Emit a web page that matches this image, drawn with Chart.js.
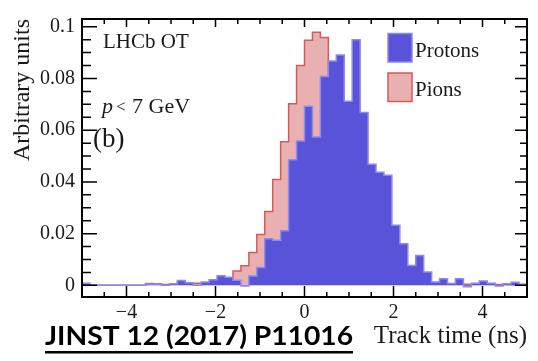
<!DOCTYPE html>
<html>
<head>
<meta charset="utf-8">
<script src="https://cdn.jsdelivr.net/npm/chart.js@4.4.0/dist/chart.umd.min.js"></script>
<style>
  html, body { margin: 0; padding: 0; background: #fff; }
</style>
</head>
<body>
<canvas id="myChart" width="538" height="361"></canvas>
<script>
// histogram binning (track time, ns)
const tMin = -5;
const tMax = 5;
const nBins = 56;

// normalised bin contents, 56 bins from -5 to 5 ns
const protons = [
  0.0008, 0.0000, 0.0000, 0.0000, 0.0000, 0.0000, 0.0000, 0.0000,
  0.0005, 0.0004, 0.0000, 0.0006, 0.0019, 0.0010, 0.0000, 0.0013,
  0.0022, 0.0037, 0.0031, 0.0020, -0.0002, 0.0036, 0.0069, 0.0180,
  0.0174, 0.0211, 0.0486, 0.0558, 0.0693, 0.0574, 0.0808, 0.0868,
  0.0891, 0.0712, 0.0950, 0.0668, 0.0468, 0.0437, 0.0426, 0.0232,
  0.0161, 0.0077, 0.0115, 0.0052, 0.0013, 0.0026, 0.0007, 0.0026,
  -0.0005, 0.0008, 0.0017, 0.0008, -0.0002, 0.0006, 0.0012, 0.0004,
];
const pions = [
  0.0003, 0.0000, 0.0000, 0.0000, 0.0000, 0.0000, 0.0000, 0.0000,
  0.0007, 0.0006, 0.0003, 0.0004, 0.0012, 0.0008, 0.0008, 0.0009,
  0.0015, 0.0026, 0.0029, 0.0056, 0.0076, 0.0127, 0.0197, 0.0286,
  0.0409, 0.0555, 0.0702, 0.0850, 0.0948, 0.0979, 0.0958, 0.0760,
  0.0610, 0.0460, 0.0330, 0.0230, 0.0155, 0.0105, 0.0070, 0.0048,
  0.0036, 0.0027, 0.0020, 0.0014, 0.0010, 0.0009, 0.0005, 0.0007,
  0.0004, 0.0005, 0.0007, 0.0004, 0.0003, 0.0003, 0.0002, 0.0003,
];

const xLabels = [-4, -2, 0, 2, 4];
const yLabels = [0, 0.02, 0.04, 0.06, 0.08, 0.1];

const serif = '"Liberation Serif", "Times New Roman", serif';
const ink = "#1a1a1a";

const binWidth = (tMax - tMin) / nBins;

// left bin edges + closing point so stepped lines look like a histogram
const toSteps = (vals) => {
  const pts = vals.map((v, i) => ({ x: tMin + i * binWidth, y: v }));
  pts.push({ x: tMax, y: vals[vals.length - 1] });
  return pts;
};

const isLabel = (list, v) => list.some((l) => Math.abs(l - v) < 1e-9);

// ROOT style frame: ticks pointing inwards on all four sides
const framePlugin = {
  id: "frame",
  afterDatasetsDraw(chart) {
    const { ctx, chartArea: a, scales } = chart;
    const x = scales.x;
    const y = scales.y;
    ctx.save();
    ctx.strokeStyle = "#000";
    ctx.lineWidth = 1.5;
    ctx.beginPath();
    for (let k = -9; k <= 9; k++) {
      const t = k / 2;
      const px = x.getPixelForValue(t);
      const major = isLabel(xLabels, t);
      ctx.moveTo(px, a.bottom);
      ctx.lineTo(px, a.bottom - (major ? 11 : 5));
      ctx.moveTo(px, a.top);
      ctx.lineTo(px, a.top + (major ? 8 : 5));
    }
    for (let k = 0; k <= 20; k++) {
      const v = k * 0.005;
      const py = y.getPixelForValue(v);
      const major = k % 4 === 0;
      ctx.moveTo(a.left, py);
      ctx.lineTo(a.left + (major ? 15 : 9), py);
      ctx.moveTo(a.right, py);
      ctx.lineTo(a.right - (major ? 12 : 7), py);
    }
    ctx.stroke();
    ctx.lineWidth = 2;
    ctx.strokeRect(a.left, a.top, a.right - a.left, a.bottom - a.top);

    // legend
    ctx.font = "21px " + serif;
    ctx.textBaseline = "alphabetic";
    ctx.textAlign = "left";
    chart.data.datasets.forEach((ds, i) => {
      const top = 33.5 + i * 39.5;
      ctx.fillStyle = ds.backgroundColor;
      ctx.fillRect(388, top, 24, 28.5);
      ctx.strokeStyle = ds.borderColor;
      ctx.lineWidth = 1.5;
      ctx.strokeRect(388, top, 24, 28.5);
      ctx.fillStyle = ink;
      ctx.fillText(ds.label, 415, top + 23);
    });

    // labels inside the frame
    ctx.fillStyle = ink;
    ctx.font = "21px " + serif;
    ctx.fillText("LHCb OT", 103, 48);
    ctx.font = "italic 22px " + serif;
    ctx.fillText("p", 102, 113);
    ctx.font = "17px " + serif;
    ctx.fillText("<", 116, 112);
    ctx.font = "22px " + serif;
    ctx.fillText("7 GeV", 132, 113);
    ctx.font = "27px " + serif;
    ctx.fillText("(b)", 93, 147);

    // reference line under the plot
    ctx.font = "bold 26px Lato, \"Liberation Sans\", sans-serif";
    const ref = "JINST 12 (2017) P11016";
    const w = ctx.measureText(ref).width;
    ctx.save();
    ctx.translate(45, 345);
    ctx.scale(308 / w, 1);
    ctx.fillStyle = "#000";
    ctx.fillText(ref, 0, 0);
    ctx.restore();
    ctx.fillStyle = "#000";
    ctx.fillRect(45, 351, 308, 2.5);
    ctx.restore();
  },
};

const ctx = document.getElementById("myChart");

new Chart(ctx, {
  type: "line",
  data: {
    datasets: [
      {
        label: "Protons",
        data: toSteps(protons),
        stepped: "before",
        fill: "origin",
        backgroundColor: "#5853d8",
        borderColor: "#8c89f0",
        borderWidth: 1.5,
        pointRadius: 0,
      },
      {
        label: "Pions",
        data: toSteps(pions),
        stepped: "before",
        fill: "origin",
        backgroundColor: "#e8b0b0",
        borderColor: "#d65a5a",
        borderWidth: 1.5,
        pointRadius: 0,
      },
    ],
  },
  options: {
    responsive: false,
    animation: false,
    layout: { padding: { top: 10, right: 11, left: 0, bottom: 0 } },
    plugins: { legend: { display: false }, tooltip: { enabled: false } },
    scales: {
      x: {
        type: "linear",
        min: tMin,
        max: tMax,
        grid: { display: false, drawTicks: false },
        border: { display: false },
        ticks: {
          stepSize: 0.5,
          maxTicksLimit: 100,
          autoSkip: false,
          maxRotation: 0,
          padding: 4,
          color: ink,
          font: { family: serif, size: 20 },
          callback: (v) =>
            isLabel(xLabels, v) ? (v < 0 ? "\u2212" + Math.abs(v) : String(v)) : "",
        },
        title: {
          display: true,
          text: "Track time (ns)",
          align: "end",
          color: ink,
          font: { family: serif, size: 25, lineHeight: 1.2 },
          padding: { top: 0, bottom: 10 },
        },
        afterFit: (s) => {
          s.height = 64;
        },
      },
      y: {
        min: -0.0045,
        max: 0.103,
        grid: { display: false, drawTicks: false },
        border: { display: false },
        ticks: {
          stepSize: 0.005,
          maxTicksLimit: 100,
          autoSkip: false,
          includeBounds: false,
          padding: 7,
          color: ink,
          font: { family: serif, size: 20 },
          callback: (v) =>
            isLabel(yLabels, v) ? String(Math.round(v * 100) / 100) : "",
        },
        title: {
          display: true,
          text: "Arbitrary units",
          align: "end",
          color: ink,
          font: { family: serif, size: 24, lineHeight: 1.2 },
          padding: { top: 8, bottom: 0 },
        },
        afterFit: (s) => {
          s.width = 82;
        },
      },
    },
  },
  plugins: [framePlugin],
});
</script>
</body>
</html>
